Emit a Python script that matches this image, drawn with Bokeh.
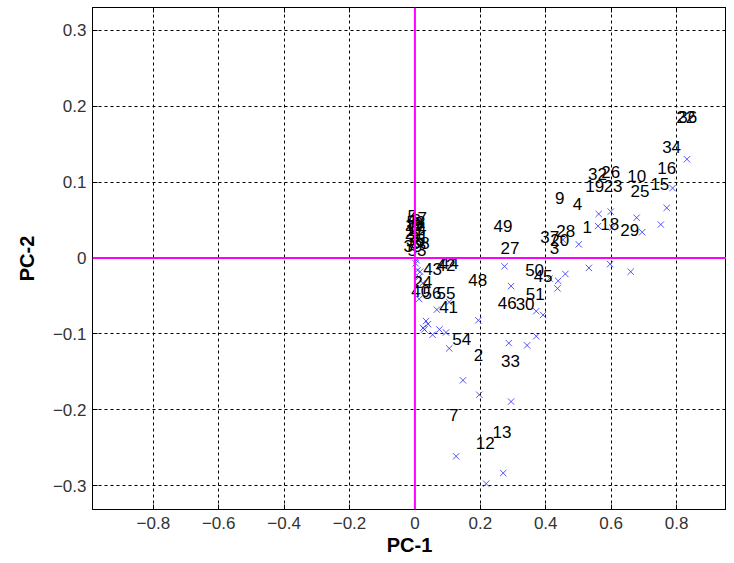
from bokeh.plotting import figure
from bokeh.models import ColumnDataSource, Span, Range1d, LinearAxis, FixedTicker
from bokeh.core.properties import value
from bokeh.embed import file_html
from bokeh.resources import INLINE

# Blue "x" markers (PC-1, PC-2)
mark_x = [0.832, 0.788, 0.770, 0.752, 0.678, 0.695, 0.599, 0.603, 0.562, 0.560,
          0.501, 0.453, 0.532, 0.597, 0.660, 0.460, 0.438, 0.436, 0.412, 0.274,
          0.294, 0.371, 0.392, 0.194, 0.371, 0.343, 0.287, 0.147, 0.197, 0.294,
          0.126, 0.270, 0.218, 0.105, 0.095, 0.075, 0.054, 0.029, 0.034, 0.067,
          0.105, 0.013, 0.024, 0.002, 0.008, 0.016, 0.005, 0.012, 0.040, 0.025]
mark_y = [0.130, 0.092, 0.066, 0.044, 0.053, 0.034, 0.061, 0.040, 0.058, 0.042,
          0.018, 0.024, -0.013, -0.008, -0.018, -0.021, -0.030, -0.040, -0.027, -0.011,
          -0.037, -0.070, -0.075, -0.082, -0.103, -0.115, -0.112, -0.161, -0.180, -0.189,
          -0.261, -0.283, -0.297, -0.119, -0.098, -0.094, -0.101, -0.094, -0.083, -0.068,
          -0.058, -0.054, -0.033, -0.007, -0.016, -0.018, -0.003, -0.025, -0.087, -0.092]

# Numbered sample labels (PC-1, PC-2)
lab_text = ["34", "16", "15", "10", "25", "32", "26", "19", "23", "9",
            "4", "1", "18", "29", "49", "27", "37", "28", "20", "3",
            "22", "36", "48", "50", "45", "51", "46", "30", "33", "2",
            "54", "7", "12", "13", "41", "40", "56", "55", "43", "42",
            "44", "24",
            "5", "6", "8", "11", "14", "17", "21", "31", "35", "38",
            "39", "47", "52", "53"]
lab_x = [0.785, 0.770, 0.749, 0.678, 0.688, 0.558, 0.599, 0.550, 0.606, 0.443,
         0.497, 0.527, 0.596, 0.657, 0.269, 0.291, 0.412, 0.461, 0.443, 0.427,
         0.828, 0.834, 0.192, 0.366, 0.392, 0.368, 0.282, 0.337, 0.292, 0.194,
         0.143, 0.119, 0.215, 0.266, 0.103, 0.018, 0.052, 0.095, 0.054, 0.095,
         0.105, 0.024,
         -0.008, 0.004, 0.010, -0.004, 0.006, 0.000, -0.002, 0.012, 0.002, 0.016,
         -0.006, 0.008, 0.003, 0.006]
lab_y = [0.146, 0.119, 0.098, 0.108, 0.088, 0.111, 0.113, 0.095, 0.095, 0.079,
         0.071, 0.041, 0.045, 0.037, 0.042, 0.013, 0.028, 0.035, 0.024, 0.013,
         0.185, 0.185, -0.029, -0.016, -0.024, -0.048, -0.059, -0.061, -0.136, -0.127,
         -0.107, -0.207, -0.243, -0.229, -0.064, -0.044, -0.046, -0.046, -0.014, -0.009,
         -0.007, -0.031,
         0.055, 0.050, 0.046, 0.043, 0.040, 0.037, 0.033, 0.028, 0.024, 0.020,
         0.016, 0.052, 0.048, 0.010]

x_ticks = [-0.8, -0.6, -0.4, -0.2, 0, 0.2, 0.4, 0.6, 0.8]
y_ticks = [-0.3, -0.2, -0.1, 0, 0.1, 0.2, 0.3]

W, H = 726, 558
left, top, bottom = 92, 7, 49
frame_w = W - left
x0 = -0.986
x1 = x0 + frame_w / 327.0

p = figure(width=W, height=H, output_backend="svg", toolbar_location=None,
           x_range=Range1d(x0, x1), y_range=Range1d(-0.331, 0.3297),
           min_border_left=left, min_border_right=0, min_border_top=top,
           min_border_bottom=bottom,
           x_axis_label="PC-1", y_axis_label="PC-2")
p.background_fill_color = "white"
p.border_fill_color = "white"
p.outline_line_color = "black"
p.outline_line_width = 1

for ax in (p.xaxis[0], p.yaxis[0]):
    ax.major_tick_in = 5
    ax.major_tick_out = 0
    ax.minor_tick_in = 0
    ax.minor_tick_out = 0
    ax.axis_line_color = "black"
    ax.major_tick_line_color = "black"
    ax.major_label_text_font = "Liberation Sans"
    ax.major_label_text_font_size = "17px"
    ax.major_label_text_color = "#333333"
    ax.axis_label_text_font = "Liberation Sans"
    ax.axis_label_text_font_size = "20px"
    ax.axis_label_text_font_style = "bold"
    ax.axis_label_text_color = "black"
p.xaxis[0].ticker = FixedTicker(ticks=x_ticks)
p.yaxis[0].ticker = FixedTicker(ticks=y_ticks)
p.xaxis[0].major_label_standoff = 7
p.xaxis[0].axis_label_standoff = 2
p.yaxis[0].major_label_standoff = 6
p.yaxis[0].axis_label_standoff = 12

# mirrored tick marks along the top edge (no labels)
top_axis = LinearAxis(ticker=FixedTicker(ticks=x_ticks), major_label_text_font_size="0px",
                      major_label_text_color=None, major_label_standoff=0,
                      major_tick_in=5, major_tick_out=0,
                      minor_tick_in=0, minor_tick_out=0, axis_line_color="black",
                      major_tick_line_color="black")
p.add_layout(top_axis, "above")

for g in (p.xgrid[0], p.ygrid[0]):
    g.grid_line_color = "black"
    g.grid_line_dash = "3 3"
    g.grid_line_width = 1
p.xgrid[0].ticker = FixedTicker(ticks=x_ticks)
p.ygrid[0].ticker = FixedTicker(ticks=y_ticks)

p.add_layout(Span(location=0, dimension="height", line_color="#ff00ff", line_width=2))
p.add_layout(Span(location=0, dimension="width", line_color="#ff00ff", line_width=2))

src_m = ColumnDataSource(dict(x=mark_x, y=mark_y))
p.scatter("x", "y", source=src_m, marker="x", size=9, line_color="#2a2aff",
          line_width=1, line_alpha=0.8)

src_l = ColumnDataSource(dict(x=lab_x, y=lab_y, t=lab_text))
p.text("x", "y", text="t", source=src_l, text_font=value("Liberation Sans"),
       text_font_size="17px", text_color="black", text_align="center",
       text_baseline="middle")

open("out.html", "w").write(file_html(p, INLINE))
